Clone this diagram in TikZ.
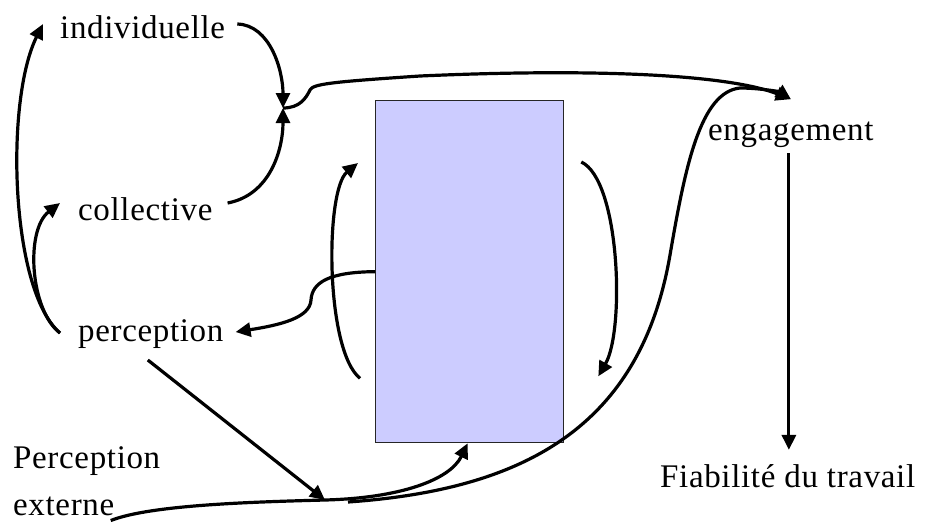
\documentclass[tikz,border=0pt]{standalone}
\usepackage{fontspec}
\setmainfont{Liberation Serif}[LetterSpace=2]
\usetikzlibrary{arrows.meta}
\definecolor{boxfill}{RGB}{204,204,255}

\begin{document}
\begin{tikzpicture}[
        x=1pt, y=-1pt,
        lbl/.style={inner sep=0pt, anchor=base west, font=\fontsize{33}{47}\selectfont},
        edge/.style={line width=3.2pt, -{Triangle[length=15pt,width=14pt]}}
        ]
        \useasboundingbox (0,0) rectangle (929,523);

        \node[draw=black!85, line width=1.3pt, fill=boxfill, minimum width=188pt, minimum height=342pt, inner sep=0pt, anchor=north west] (box) at (375,100) {};

        \node[lbl] (indiv) at (60,38) {individuelle};
        \node[lbl] (coll) at (78,220) {collective};
        \node[lbl] (perc) at (78,341) {perception};
        \node[lbl, align=left] (pext) at (13,515) {Perception\\externe};
        \node[lbl] (eng) at (708,140) {engagement};
        \node[lbl] (fiab) at (660,487) {Fiabilité du travail};

        \coordinate (m) at (283,108);
        \coordinate (j) at (325,500);

        \draw[edge] ([shift={(12,-14)}]indiv.base east) .. controls (270,25) and (283,70) .. (m);
        \draw[edge] ([shift={(15,-17)}]coll.base east) .. controls (270,195) and (283,150) .. (m);
        \draw[edge] (m) .. controls (300,108) and (306,98) .. (310,90)
            .. controls (313,84) and (330,82) .. (420,76)
            .. controls (600,68) and (730,75) .. ([shift={(0,-22)}]eng.north);

        \draw[edge] ([shift={(-18,-8)}]perc.base west) .. controls (10,290) and (5,100) .. ([shift={(-17,-14)}]indiv.base west);
        \draw[edge] ([shift={(-18,-8)}]perc.base west) .. controls (30,310) and (25,230) .. ([shift={(-18,-17)}]coll.base west);

        \draw[edge] ([shift={(-15,-65)}]box.south west) .. controls (325,350) and (325,190) .. ([shift={(-17,63)}]box.north west);
        \draw[edge] ([shift={(17,62)}]box.north east) .. controls (620,180) and (625,330) .. ([shift={(34,-67)}]box.south east);
        \draw[edge] (box.west) .. controls (330,272) and (312,282) .. (311,300)
            .. controls (310,318) and (280,325) .. ([shift={(12,-9)}]perc.base east);

        \draw[edge] ([shift={(-3,19)}]perc.base) -- (j);
        \draw[edge] ([shift={(24,5)}]pext.south) .. controls (150,505) and (250,502) .. (j)
            .. controls (400,498) and (450,480) .. ([shift={(-2,0)}]box.south);
        \draw[edge] ([shift={(23,2)}]j) .. controls (520,490) and (640,430) .. (670,255)
            .. controls (685,168) and (700,92) .. (740,88)
            .. controls (760,88) and (780,92) .. ([shift={(0,-22)}]eng.north);

        \draw[edge] ([shift={(-2,6)}]eng.south) -- ([shift={(-2,-14)}]eng.south |- fiab.north);
    \end{tikzpicture}
\end{document}
